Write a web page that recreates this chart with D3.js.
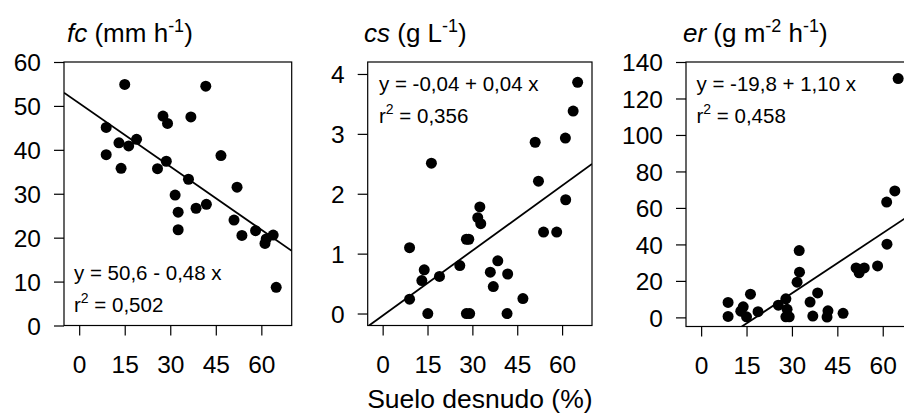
<!DOCTYPE html>
<html>
<head>
<meta charset="utf-8">
<script src="https://cdn.jsdelivr.net/npm/d3@7"></script>
<style>
  body { margin: 0; background: #fff; overflow: hidden; }
  text { font-family: "Liberation Sans", Arial, Helvetica, sans-serif; fill: #000; }
</style>
</head>
<body>
<svg id="chart" width="904" height="415"></svg>
<script>
// ---- data -------------------------------------------------------------
const xTicks = [0, 15, 30, 45, 60];
const xLabel = "Suelo desnudo (%)";

// infiltration rate fc (mm h-1)
const fcX = [15.0, 41.7, 27.6, 29.1, 36.8, 8.9, 13.1, 16.3, 18.9, 8.9, 13.8, 46.7, 25.8, 28.7,
             36.0, 52.0, 31.6, 32.6, 32.6, 38.5, 41.9, 51.0, 53.6, 58.1, 61.2, 61.6, 63.9, 64.9];
const fcY = [54.9, 54.5, 47.7, 46.0, 47.5, 45.1, 41.6, 40.9, 42.4, 38.9, 35.8, 38.7, 35.7, 37.4,
             33.3, 31.5, 29.7, 25.8, 21.8, 26.7, 27.6, 24.0, 20.5, 21.6, 18.7, 19.7, 20.6, 8.7];
const fcTicks = [0, 10, 20, 30, 40, 50, 60];
const fcFit = [50.6, -0.48];      // intercept, slope
const fcR2 = 0.502;

// sediment concentration cs (g L-1)
const csX = [65.2, 63.7, 61.1, 51.0, 16.3, 52.1, 61.2, 32.5, 31.8, 32.8, 53.8, 58.2, 28.0, 28.8, 9.0,
             38.5, 25.8, 13.9, 36.0, 41.8, 13.1, 19.0, 37.0, 9.0, 46.9, 15.1, 28.0, 29.1, 41.6];
const csY = [3.86, 3.38, 2.93, 2.86, 2.51, 2.21, 1.90, 1.78, 1.60, 1.50, 1.36, 1.36, 1.24, 1.24, 1.10,
             0.88, 0.80, 0.73, 0.69, 0.66, 0.55, 0.62, 0.45, 0.24, 0.25, 0.0, 0.0, 0.0, 0.0];
const csTicks = [0, 1, 2, 3, 4];
const csFit = [-0.036, 0.0362];
const csR2 = 0.356;

// erosion rate er (g m-2 h-1)
const erX = [65.1, 64.0, 61.3, 61.4, 58.3, 53.9, 51.2, 52.2, 32.4, 32.5, 31.7, 38.5, 36.0, 36.9, 28.0,
             25.5, 28.4, 28.0, 29.1, 41.9, 41.6, 46.9, 16.3, 18.8, 13.9, 13.1, 15.0, 8.9, 8.9];
const erY = [130.9, 69.3, 63.2, 40.1, 28.2, 27.1, 27.1, 24.4, 36.6, 24.8, 19.3, 13.4, 8.4, 0.7, 10.2,
             6.7, 4.4, 0.3, 0.3, 3.6, 0.2, 2.2, 12.7, 3.1, 5.8, 3.4, 0.3, 8.2, 0.5];
const erTicks = [0, 20, 40, 60, 80, 100, 120, 140];
const erFit = [-19.8, 1.10];
const erR2 = 0.458;

// ---- layout -------------------------------------------------------------
const TICK_FONT = 24.5, LABEL_FONT = 20.5, TITLE_FONT = 26, AXIS_TITLE_FONT = 26.5;

const panels = [
  { key: "fc", unit: [" (mm h", "-1", ")"], x: fcX, y: fcY, yTicks: fcTicks, fit: fcFit, r2: fcR2,
    interceptDigits: 1, yDomain: [0, 60], box: { l: 64, r: 291.7, t: 62, b: 325.5 },
    titleX: 67, note: { x: 74, y: 279.5 } },
  { key: "cs", unit: [" (g L", "-1", ")"], x: csX, y: csY, yTicks: csTicks, fit: csFit, r2: csR2,
    interceptDigits: 2, yDomain: [-0.2, 4.2], box: { l: 367.7, r: 592, t: 62, b: 325.5 },
    titleX: 364, note: { x: 379, y: 91 } },
  { key: "er", unit: [" (g m", "-2", " h", "-1", ")"], x: erX, y: erY, yTicks: erTicks, fit: erFit, r2: erR2,
    interceptDigits: 1, yDomain: [-5, 140], box: { l: 686, r: 913, t: 62, b: 326.5 },
    titleX: 683, note: { x: 696.5, y: 91 } }
];

const svg = d3.select("#chart");
const fmt = (v, d) => v.toFixed(d).replace(".", ",");

panels.forEach((p, i) => {
  const x = d3.scaleLinear().domain([-5, 70]).range([p.box.l, p.box.r]);
  const y = d3.scaleLinear().domain(p.yDomain).range([p.box.b, p.box.t]);
  const g = svg.append("g");

  const clipId = "clip-" + p.key;
  svg.append("clipPath").attr("id", clipId)
    .append("rect")
    .attr("x", p.box.l).attr("y", p.box.t)
    .attr("width", p.box.r - p.box.l).attr("height", p.box.b - p.box.t);

  // y axis
  const yAxis = d3.axisLeft(y).tickValues(p.yTicks).tickSize(10).tickPadding(13)
    .tickFormat(d => String(d));
  const ya = g.append("g").attr("transform", `translate(${p.box.l},0)`).call(yAxis);
  ya.select(".domain").remove();
  ya.selectAll("line").attr("stroke", "#000").attr("stroke-width", 1.2);
  ya.selectAll("text").attr("font-size", TICK_FONT).attr("font-family", null)
    .attr("dy", "0.36em");

  // x axis
  const xAxis = d3.axisBottom(x).tickValues(xTicks).tickSize(10).tickPadding(20)
    .tickFormat(d => String(d));
  const xa = g.append("g").attr("transform", `translate(0,${p.box.b})`).call(xAxis);
  xa.select(".domain").remove();
  xa.selectAll("line").attr("stroke", "#000").attr("stroke-width", 1.2);
  xa.selectAll("text").attr("font-size", TICK_FONT).attr("font-family", null)
    .attr("dy", "0.71em");

  // plot frame
  g.append("rect")
    .attr("x", p.box.l).attr("y", p.box.t)
    .attr("width", p.box.r - p.box.l).attr("height", p.box.b - p.box.t)
    .attr("fill", "none").attr("stroke", "#000").attr("stroke-width", 1.2);

  const inner = g.append("g").attr("clip-path", `url(#${clipId})`);

  // fitted regression line across the plot range
  const [a, b] = p.fit;
  const xs = x.domain();
  inner.append("line")
    .attr("x1", x(xs[0])).attr("y1", y(a + b * xs[0]))
    .attr("x2", x(xs[1])).attr("y2", y(a + b * xs[1]))
    .attr("stroke", "#000").attr("stroke-width", 1.8);

  // observations
  inner.selectAll("circle").data(p.x.map((v, k) => [v, p.y[k]]))
    .join("circle")
    .attr("cx", d => x(d[0])).attr("cy", d => y(d[1]))
    .attr("r", 5.5).attr("fill", "#000");

  // panel title: italic variable + units with superscripts
  const t = g.append("text").attr("x", p.titleX).attr("y", 41.5).attr("font-size", TITLE_FONT);
  t.append("tspan").attr("font-style", "italic").text(p.key);
  let up = false;
  p.unit.forEach((part, k) => {
    const sup = k % 2 === 1;
    const ts = t.append("tspan").text(part);
    if (sup) { ts.attr("font-size", 18).attr("dy", -10); up = true; }
    else if (up) { ts.attr("dy", 10); up = false; }
  });

  // equation and coefficient of determination
  const sign = b < 0 ? " - " : " + ";
  const eq = `y = ${fmt(a, p.interceptDigits)}${sign}${fmt(Math.abs(b), 2)} x`;
  g.append("text").attr("x", p.note.x).attr("y", p.note.y)
    .attr("font-size", LABEL_FONT).text(eq);
  const r = g.append("text").attr("x", p.note.x).attr("y", p.note.y + 32)
    .attr("font-size", LABEL_FONT);
  r.append("tspan").text("r");
  r.append("tspan").attr("font-size", 14).attr("dy", -9).text("2");
  r.append("tspan").attr("dy", 9).text(" = " + fmt(p.r2, 3));

  if (i === 1) {
    svg.append("text")
      .attr("x", (p.box.l + p.box.r) / 2).attr("y", 408)
      .attr("text-anchor", "middle").attr("font-size", AXIS_TITLE_FONT)
      .text(xLabel);
  }
});
</script>
</body>
</html>
